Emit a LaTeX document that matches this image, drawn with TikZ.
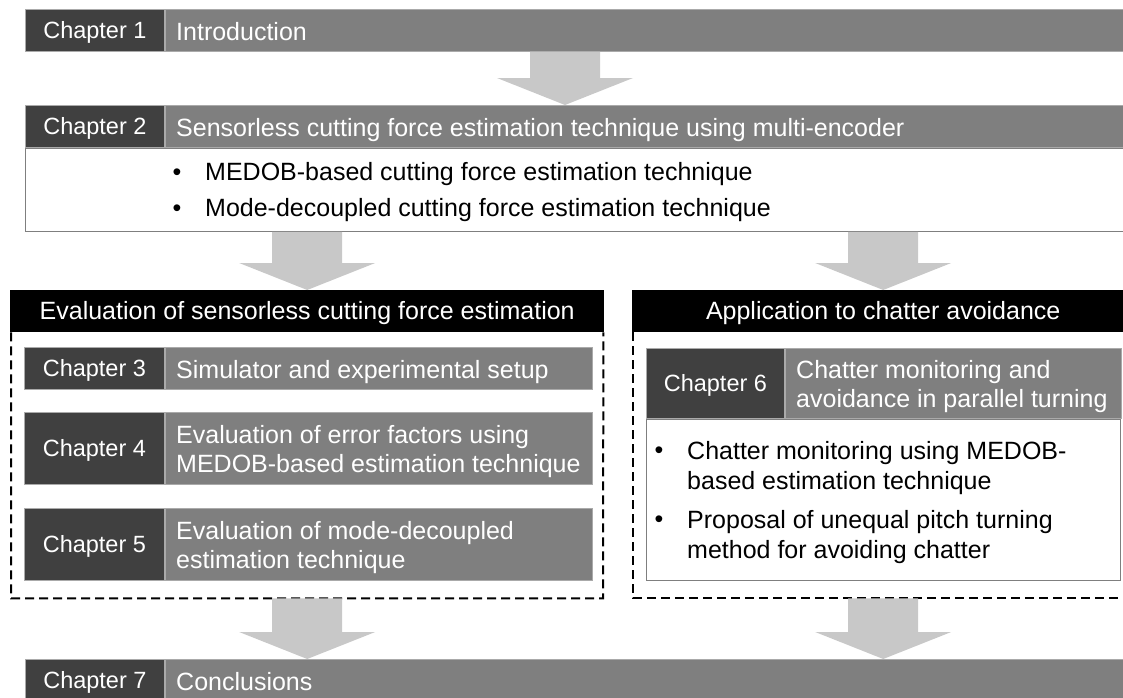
\documentclass[tikz,border=0pt]{standalone}
\usepackage{fontspec}
\setmainfont{Liberation Sans}
\usetikzlibrary{positioning,calc}
\definecolor{ChapDark}{RGB}{64,64,64}
\definecolor{ChapGray}{RGB}{127,127,127}
\definecolor{EdgeGray}{RGB}{170,170,170}
\definecolor{ArrowGray}{RGB}{200,200,200}
\newcommand\labelfont{\fontsize{23.5}{29}\selectfont}
\newcommand\titlefont{\fontsize{25}{29}\selectfont}
\newcommand\itemfont{\fontsize{25}{30}\selectfont}
\newcommand\titletext[2]{\makebox[#1][l]{\raisebox{-4pt}[\height][\depth]{\begin{tabular}{@{}l@{}}#2\end{tabular}}}}
\newcommand\flowarrow[2]{\fill[ArrowGray] let \p1=(#1),\p2=(#2) in (\x1-35pt,\y1) -- (\x1+35pt,\y1) -- (\x1+35pt,\y2+27pt) -- (\x1+68pt,\y2+27pt) -- (\x2,\y2) -- (\x1-68pt,\y2+27pt) -- (\x1-35pt,\y2+27pt) -- cycle;}

\begin{document}
\begin{tikzpicture}[x=1pt,y=-1pt,
  chaplabel/.style={fill=ChapDark,draw=EdgeGray,line width=0.8pt,text=white,inner sep=0pt,text height=18pt,text depth=2pt,minimum width=139pt,minimum height=42pt,anchor=north west,font=\labelfont},
  chaptitle/.style={fill=ChapGray,draw=EdgeGray,line width=0.8pt,text=white,inner xsep=11pt,inner ysep=0pt,minimum height=42pt,font=\titlefont},
  parthead/.style={fill=black,text=white,inner sep=0pt,text height=18pt,text depth=1pt,minimum height=42pt,anchor=north west,font=\titlefont},
  itembox/.style={fill=white,draw=ChapGray,line width=1pt,inner sep=0pt,anchor=north west},
  itemtext/.style={anchor=west,inner sep=0pt,font=\itemfont},
  bulletmark/.style={inner sep=0pt,font=\itemfont},
  dashline/.style={draw=black,line width=2pt,dash pattern=on 9pt off 5pt}]
\clip (0,0) rectangle (1123,697);

\node[chaplabel] (ch1) at (25,9) {Chapter 1};
\node[chaptitle,right=0pt of ch1] (ch1t) {\titletext{949pt}{Introduction}};

\node[chaplabel] (ch2) at (25,105) {Chapter 2};
\node[chaptitle,right=0pt of ch2] (ch2t) {\titletext{949pt}{Sensorless cutting force estimation technique using multi-encoder}};
\node[itembox,minimum width=1109pt,minimum height=83pt] (box2) at (ch2.south west) {};
\node[bulletmark] (b21) at (177,175) {\textbullet};
\node[itemtext] (t21) at (205,174.5) {MEDOB-based cutting force estimation technique};
\node[bulletmark] (b22) at (177,211) {\textbullet};
\node[itemtext] (t22) at (205,210.5) {Mode-decoupled cutting force estimation technique};

\node[parthead,minimum width=594pt] (evalhead) at (10,290) {Evaluation of sensorless cutting force estimation};
\draw[dashline] ([xshift=1pt]evalhead.south west) -- ++(0,266) coordinate (evalbl) -- ++(592,0) coordinate (evalbr) -- ([xshift=-1pt]evalhead.south east);

\node[chaplabel,minimum width=140pt] (ch3) at (24,347) {Chapter 3};
\node[chaptitle,right=0pt of ch3] (ch3t) {\titletext{405pt}{Simulator and experimental setup}};
\node[chaplabel,minimum width=140pt,minimum height=72pt] (ch4) at (24,412) {Chapter 4};
\node[chaptitle,minimum height=72pt,right=0pt of ch4] (ch4t) {\titletext{405pt}{Evaluation of error factors using\\MEDOB-based estimation technique}};
\node[chaplabel,minimum width=140pt,minimum height=72pt] (ch5) at (24,508) {Chapter 5};
\node[chaptitle,minimum height=72pt,right=0pt of ch5] (ch5t) {\titletext{405pt}{Evaluation of mode-decoupled\\estimation technique}};

\node[parthead,minimum width=502pt] (apphead) at (632,290) {Application to chatter avoidance};
\draw[dashline] ([xshift=1pt]apphead.south west) -- ++(0,266) coordinate (appbl) -- ++(520,0);

\node[chaplabel,minimum width=138pt,minimum height=70pt] (ch6) at (646,348) {Chapter 6};
\node[chaptitle,minimum height=70pt,right=0pt of ch6] (ch6t) {\titletext{314pt}{Chatter monitoring and\\avoidance in parallel turning}};
\node[itembox,minimum width=474pt,minimum height=161pt] (box6) at (ch6.south west) {};
\node[bulletmark] (b61) at (659,453) {\textbullet};
\node[itemtext] (t61) at (687,468) {\begin{tabular}{@{}l@{}}Chatter monitoring using MEDOB-\\based estimation technique\end{tabular}};
\node[bulletmark] (b62) at (659,522) {\textbullet};
\node[itemtext] (t62) at (687,537) {\begin{tabular}{@{}l@{}}Proposal of unequal pitch turning\\method for avoiding chatter\end{tabular}};

\node[chaplabel] (ch7) at (25,659) {Chapter 7};
\node[chaptitle,right=0pt of ch7] (ch7t) {\titletext{949pt}{Conclusions}};

\coordinate (mid1) at (565,0);
\flowarrow{ch1t.south -| mid1}{ch2t.north -| mid1}
\flowarrow{box2.south -| evalhead.north}{evalhead.north}
\flowarrow{box2.south -| apphead.north}{apphead.north}
\flowarrow{evalbl -| evalhead.south}{ch7t.north -| evalhead.south}
\flowarrow{appbl -| apphead.south}{ch7t.north -| apphead.south}
\end{tikzpicture}
\end{document}
